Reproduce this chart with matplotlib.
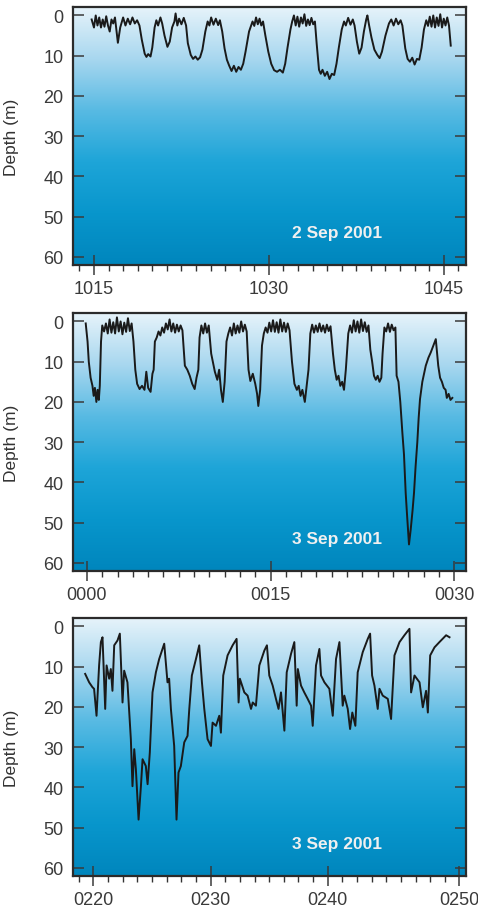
import numpy as np
import matplotlib.pyplot as plt
from matplotlib.colors import LinearSegmentedColormap
from matplotlib.ticker import MultipleLocator

plt.rcParams['font.family'] = ['Liberation Sans', 'DejaVu Sans']

# 2 Sep 2001, time in minutes after 10:00, depth in m
t1 = [14.8, 15.0, 15.15, 15.3, 15.45, 15.6, 15.75, 15.9, 16.05, 16.2, 16.35, 16.5, 16.65, 16.8,
      17.05, 17.25, 17.5, 17.7, 17.9, 18.1, 18.3, 18.5, 18.7, 18.9,
      19.1, 19.35, 19.5, 19.65, 19.85, 20.0, 20.2, 20.35, 20.5, 20.7, 20.85,
      21.05, 21.3, 21.5, 21.7, 21.9, 22.0, 22.15, 22.3, 22.5, 22.7, 22.9,
      23.05, 23.3, 23.5, 23.7, 23.9, 24.1, 24.3, 24.55, 24.75, 24.9, 25.05, 25.25, 25.45, 25.65, 25.8,
      26.0, 26.2, 26.4, 26.6, 26.8, 27.0, 27.2, 27.4, 27.6, 27.8, 28.0, 28.3, 28.6, 28.75, 28.9,
      29.05, 29.2, 29.35, 29.5,
      29.7, 29.95, 30.2, 30.45, 30.7, 30.95, 31.2, 31.4, 31.6, 31.85, 32.0, 32.15, 32.3, 32.45,
      32.6, 32.75, 32.9, 33.05, 33.2, 33.35, 33.5, 33.65, 33.8, 33.95,
      34.1, 34.3, 34.45, 34.6, 34.8, 35.0, 35.2, 35.4, 35.6, 35.8, 36.0, 36.25, 36.45, 36.6,
      36.8, 37.0, 37.2, 37.35,
      37.55, 37.75, 37.95, 38.15, 38.35, 38.45, 38.6,
      38.8, 39.05, 39.3, 39.5, 39.7, 40.0, 40.3, 40.5, 40.7, 40.9, 41.1, 41.3, 41.45,
      41.7, 41.9, 42.1, 42.3, 42.5, 42.7, 42.9, 43.1, 43.3, 43.5, 43.65, 43.8, 43.95, 44.1,
      44.25, 44.4, 44.55, 44.7, 44.85, 45.0, 45.15, 45.3, 45.45, 45.6]
d1 = [1, 3, 0, 2.5, 0.5, 3, 1, 2.8, 0.2, 2.5, 4, 1, 2, 0.5,
      6.8, 3, 0.5, 2.5, 0.8, 2.2, 0.5, 2, 1.2, 2.5,
      6, 9.5, 10.3, 9.6, 10.2, 8, 3, 1.2, 2.5, 0.5, 2,
      5, 7.8, 6.5, 3, 1.5, -0.5, 2.5, 0.8, 2.2, 0.6, 2.5,
      6.9, 9.8, 10.8, 10.2, 11, 10.4, 8.5, 4, 1.5, 2.5, 0.5, 2.3, 0.8, 2.4, 1.2,
      4, 8.2, 11, 12.5, 13.8, 12.5, 14, 12.8, 13.5, 12, 9, 4, 1.5, 2.6, 0.5,
      2.2, 0.8, 2.5, 1.5,
      5, 9, 12, 13.6, 14, 13.5, 14.2, 12, 8, 3.5, 1.5, 0, 2.5, 0.3,
      2.8, 0.5, 2, -0.3, 2.6, 1, 2.4, 0.6, 2.2, 1.5,
      7, 13.5, 14.5, 13.5, 15, 14, 15.8, 14.5, 14.8, 12, 8, 3.5, 1.5, 2.5,
      0.6, 2.3, 1, 2.5,
      6.5, 9.5, 8, 4, 1, 0, 2.5,
      5.5, 8.5, 9.8, 10.6, 9, 5, 2, 1, 2.5, 0.8, 2.2, 1.2, 2.5,
      8.2, 10.8, 11.5, 10.5, 12.2, 10.8, 11, 8, 3.5, 1.2, 2.6, 0.3, 2.8, 0,
      3, 0.5, 2.6, -0.3, 3, 0.8, 2.5, 0.5, 2.5, 7.5]

# 3 Sep 2001, minutes after 00:00
t2 = [-0.1, 0.05, 0.15, 0.3, 0.45, 0.55, 0.65, 0.77, 0.87, 0.97, 1.05, 1.15, 1.25,
      1.4, 1.55, 1.7, 1.85, 2.0, 2.15, 2.3, 2.45, 2.6, 2.75, 2.9, 3.05, 3.2, 3.35, 3.5, 3.65,
      3.8, 3.95, 4.1, 4.3, 4.5, 4.7, 4.85, 5.0, 5.2, 5.35, 5.45, 5.55,
      5.7, 5.85, 6.0, 6.15, 6.3, 6.45, 6.6, 6.75, 6.9, 7.05, 7.2, 7.35, 7.5, 7.65, 7.8,
      8.0, 8.2, 8.4, 8.6, 8.8, 8.95, 9.1, 9.2,
      9.35, 9.5, 9.65, 9.8, 9.95,
      10.15, 10.45, 10.65, 10.8, 10.95, 11.1, 11.25, 11.4,
      11.55, 11.7, 11.85, 12.0, 12.15, 12.3, 12.45, 12.6, 12.75, 12.9, 13.05,
      13.2, 13.35, 13.55, 13.75, 13.9, 14.0, 14.15, 14.3,
      14.45, 14.6, 14.75, 14.9, 15.05, 15.2, 15.35, 15.5, 15.65, 15.8, 15.95, 16.1, 16.25, 16.4, 16.55,
      16.75, 16.95, 17.15, 17.3, 17.45, 17.6, 17.8, 17.95, 18.1, 18.25,
      18.4, 18.55, 18.7, 18.85, 19.0, 19.15, 19.3, 19.45, 19.6, 19.75, 19.9,
      20.1, 20.25, 20.4, 20.55, 20.7, 20.85, 21.0, 21.15, 21.35,
      21.5, 21.65, 21.8, 21.95, 22.1, 22.25, 22.4, 22.55, 22.7, 22.85, 23.0,
      23.15, 23.3, 23.45, 23.6, 23.75, 23.9, 24.05, 24.15, 24.3,
      24.45, 24.6, 24.75, 24.9, 25.05, 25.2,
      25.3, 25.45, 25.6, 25.77, 25.9, 26.04, 26.15, 26.31, 26.45, 26.6, 26.72, 26.85, 26.99,
      27.1, 27.21, 27.4, 27.68, 27.9, 28.09, 28.3, 28.5,
      28.7, 28.85, 29.0, 29.15, 29.3, 29.4, 29.55, 29.7, 29.85]
d2 = [0.5, 5, 10, 14, 16, 18.5, 16.5, 20, 17, 19.5, 16, 5, 1,
      2.5, 0.5, 3, -0.5, 2.8, 0.2, 3, -1, 2.5, 0, 3.2, 0.3, 2.6, -0.8, 2.4, 0.5,
      5, 12, 15.5, 16.8, 16, 17, 12.5, 16.5, 17.5, 13, 12, 5,
      4, 2.5, 3.5, 1.5, 2.8, 0.5, 2, -0.5, 2.5, 0.5, 2.8, 0.8, 2.5, 1, 2.2,
      11, 12, 13.5, 15.5, 16.8, 14, 12, 4,
      1, 3, 0.5, 2.8, 1,
      8, 12.5, 14.5, 12, 17, 20, 15, 5,
      3, 1.5, 3.5, 0.5, 3, 1, 2.8, 0, 2.5, 0.8, 2.5,
      12, 14.8, 13, 15.5, 18, 21, 17, 6,
      3, 1.5, 2.8, 0.3, 2.5, -0.3, 2.6, 0.2, 2.8, -0.5, 2.5, 0.3, 2.6, 0.5, 2.2,
      10, 15.5, 17, 16, 18.5, 17, 20, 16, 12, 3,
      0.8, 2.8, 1, 2.6, 0.5, 2.5, 1, 2.8, 0.8, 2.4, 1.2,
      8, 12, 14.5, 13.5, 16, 15, 17, 12, 3,
      1, 2.8, -0.3, 2.5, 0, 2.8, -0.5, 2.4, 0.2, 2.6, 1,
      7, 10, 13.5, 14.5, 13.5, 15, 14, 8, 1.5,
      2.5, 0.5, 2.6, 0.8, 2.2, 1.5,
      13.5, 15, 20, 27.7, 33, 42.6, 48, 55.4, 51.7, 47, 42.6, 36, 30,
      24, 19.3, 15, 11, 9, 7.7, 6, 4.4,
      11, 14, 15, 16.5, 17, 19, 18, 19.5, 19]

# 3 Sep 2001, minutes after 02:00
t3 = [19.29, 19.63, 19.91, 20.05, 20.26, 20.48, 20.63, 20.77, 21.0, 21.12, 21.34, 21.48, 21.62,
      21.77, 22.05, 22.25, 22.48, 22.62, 22.9,
      23.19, 23.33, 23.48, 23.62, 23.85, 24.05, 24.19, 24.47, 24.62,
      24.81, 25.04, 25.33, 25.61, 26.04,
      26.32, 26.46, 26.61, 26.89, 27.09,
      27.26, 27.46, 27.75, 28.03, 28.18, 28.4, 28.75, 29.03,
      29.26, 29.46, 29.74, 30.03, 30.17, 30.46, 30.74, 30.88,
      31.08, 31.45, 31.88, 32.22,
      32.39, 32.5, 32.88, 33.16, 33.45, 33.6, 33.87,
      34.16, 34.59, 34.81,
      35.01, 35.3, 35.58, 35.8, 36.01, 36.3,
      36.5, 36.87, 37.15,
      37.35, 37.45, 37.72, 38.0, 38.29, 38.58, 38.72,
      39.0, 39.29,
      39.43, 39.72, 40.14, 40.43,
      40.71, 41.0,
      41.28, 41.42, 41.71, 41.91, 42.1, 42.36,
      42.56, 42.99, 43.42, 43.62,
      43.79, 43.99, 44.27, 44.42, 44.7, 45.13, 45.41,
      45.7, 46.13, 46.55, 46.98,
      47.12, 47.41, 47.84, 48.12, 48.4, 48.55,
      48.75, 49.12, 49.54, 50.11, 50.4]
d3 = [11.8, 13.9, 15.1, 15.5, 22.2, 9.7, 3.9, 2.7, 20.5, 9.7, 13, 10.6, 16,
      4.7, 3.5, 1.8, 18.9, 11, 13.9,
      28, 39.7, 30.5, 35.5, 48, 39.7, 33, 34.7, 39.2,
      31.3, 16.4, 11.4, 8.1, 4.3,
      13.9, 13, 20.5, 29.7, 48,
      36.3, 34.7, 28.8, 27.2, 20.5, 12.2, 8.1, 4.7,
      13.9, 20.5, 28, 29.7, 23.9, 24.7, 22.2, 26.4,
      12.2, 7.2, 4.7, 3.1,
      18.9, 13, 16.4, 17.2, 20.5, 18.9, 19.7,
      9.7, 6, 4.7,
      12.2, 14.7, 18, 20.5, 16.4, 25.9,
      11.4, 6.8, 3.9,
      19.7, 10.6, 14.7, 16.4, 18, 19.7, 24.7,
      9.7, 5.6,
      12.2, 13.9, 15.5, 22.2,
      8.1, 3.9,
      19.7, 17.2, 20.5, 25.5, 21.4, 24.7,
      11.4, 6.4, 3.1, 1.8,
      12.2, 14.7, 20.5, 15.5, 17.2, 18, 23,
      7.2, 3.9, 2.2, 0.6,
      16.4, 12.2, 13.9, 20.1, 16, 21.4,
      7.2, 5.2, 3.9, 2.2, 2.7]

panels = [
    (t1, d1, (13.2, 46.9), [15, 30, 45], ['1015', '1030', '1045'], '2 Sep 2001'),
    (t2, d2, (-1.14, 30.96), [0, 15, 30], ['0000', '0015', '0030'], '3 Sep 2001'),
    (t3, d3, (18.25, 51.8), [20, 30, 40, 51.25], ['0220', '0230', '0240', '0250'], '3 Sep 2001'),
]
depth_ticks = [0, 10, 20, 30, 40, 50, 60]

water = LinearSegmentedColormap.from_list(
    'water', ['#e6f3fa', '#a8d7ef', '#58bae3', '#1ea5d8', '#0896cc', '#0086bd'])
grad = np.linspace(0, 1, 256).reshape(-1, 1)

fig = plt.figure(figsize=(4.78, 9.12), dpi=100)
bottoms = [0.7083, 0.3728, 0.0384]

for (t, d, xlim, xt, xtl, label), b in zip(panels, bottoms):
    ax = fig.add_axes([0.1527, b, 0.822, 0.2825])
    ax.imshow(grad, extent=[0, 1, 0, 1], transform=ax.transAxes,
              aspect='auto', cmap=water, zorder=0, interpolation='bilinear')
    ax.plot(t, d, color='#1a1a1a', lw=1.4, zorder=2)
    ax.set_xlim(*xlim)
    ax.set_ylim(62, -2)
    ax.set_xticks(xt)
    ax.set_xticklabels(xtl)
    ax.xaxis.set_minor_locator(MultipleLocator(1.25))
    ax.set_yticks(depth_ticks)
    ax.tick_params(axis='x', which='major', direction='inout', length=15, width=1.1,
                   colors='#3a3a3a', labelsize=13, pad=3)
    ax.tick_params(axis='x', which='minor', direction='out', length=4, width=1.0,
                   color='#333333')
    ax.tick_params(axis='y', direction='in', length=8, width=1.1, right=True,
                   colors='#3a3a3a', labelsize=13, pad=7)
    for s in ax.spines.values():
        s.set_linewidth(1.6)
        s.set_color('#2b2b2b')
    ax.set_ylabel('Depth (m)', fontsize=12.5, color='#333333')
    ax.yaxis.set_label_coords(-0.137, 0.5)
    ax.text(0.672, 0.125, label, transform=ax.transAxes, ha='center', va='center',
            fontsize=12.5, fontweight='bold', color='#f0f0f0', zorder=3)

fig.savefig('out.png', dpi=100)
